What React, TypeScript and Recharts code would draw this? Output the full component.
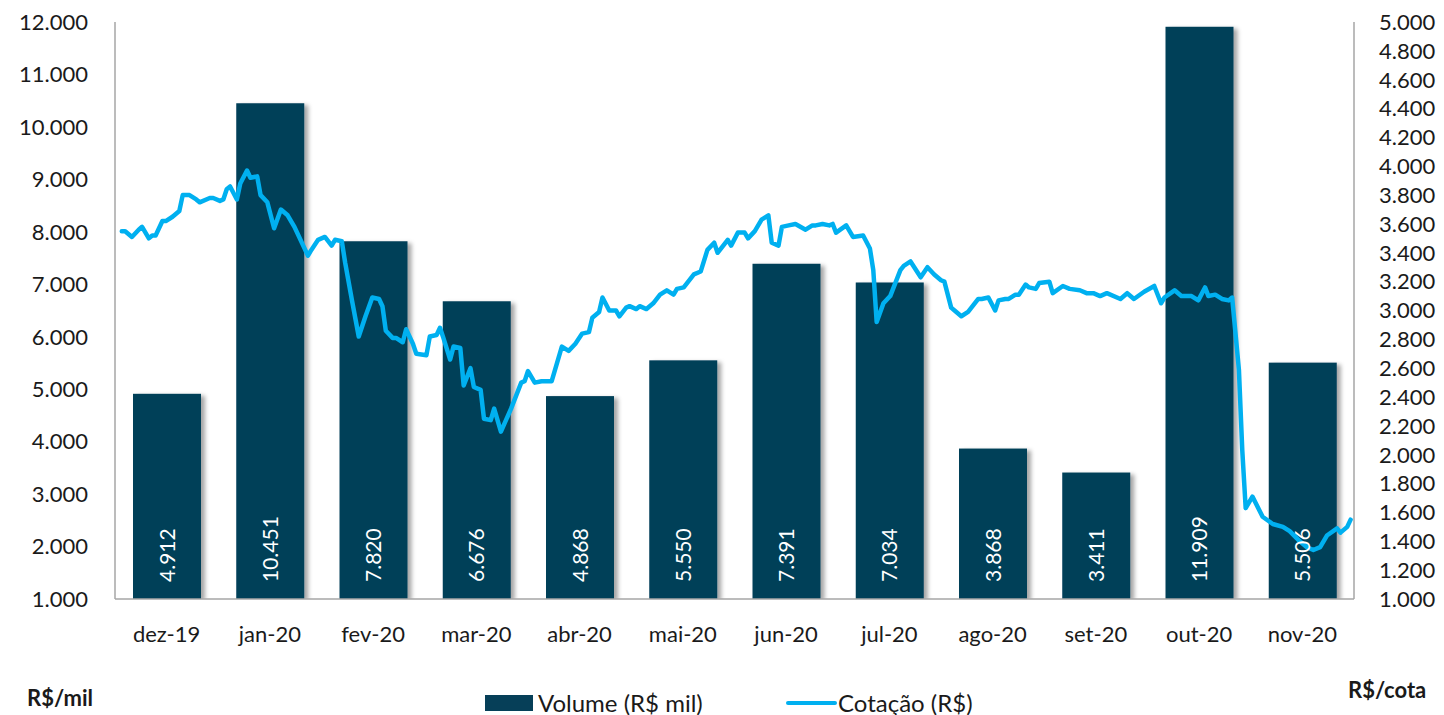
import React from 'react';
import { ComposedChart, Bar, Line, XAxis, YAxis, LabelList, Legend } from 'recharts';

const months = ['dez-19', 'jan-20', 'fev-20', 'mar-20', 'abr-20', 'mai-20', 'jun-20', 'jul-20', 'ago-20', 'set-20', 'out-20', 'nov-20'];
const volume = [4912, 10451, 7820, 6676, 4868, 5550, 7391, 7034, 3868, 3411, 11909, 5506];

// calendar day offset from 01/12/2019
const quoteDays = [
  2, 3, 5, 7, 8, 10, 11, 12, 14, 15,
  17, 19, 20, 22, 24, 25, 28, 29, 31, 32,
  33, 34, 36, 37, 39, 40, 42, 43, 45, 47,
  49, 51, 53, 57, 58, 60, 62, 64, 65, 67,
  68, 70, 72, 74, 76, 78, 79, 80, 82, 83,
  85, 86, 88, 89, 92, 93, 95, 96, 97, 99,
  100, 102, 103, 105, 106, 108, 109, 111, 112, 114,
  117, 120, 121, 122, 124, 126, 129, 132, 134, 136,
  138, 140, 141, 143, 144, 146, 148, 149, 151, 152,
  154, 155, 157, 159, 161, 163, 165, 166, 168, 171,
  173, 175, 177, 178, 181, 182, 184, 186, 187, 189,
  191, 193, 194, 196, 197, 199, 201, 204, 206, 207,
  209, 211, 212, 213, 216, 218, 221, 223, 224, 225,
  227, 229, 232, 233, 235, 238, 240, 242, 244, 245,
  247, 248, 250, 252, 255, 256, 258, 260, 261, 263,
  264, 266, 267, 269, 270, 272, 273, 276, 277, 280,
  282, 285, 287, 289, 291, 293, 297, 299, 301, 304,
  307, 309, 310, 313, 315, 318, 320, 322, 323, 325,
  327, 329, 330, 332, 333, 334, 335, 336, 339, 342,
  345, 347, 350, 352, 354, 356, 358, 361, 362, 364, 365,
];
const quoteValues = [
  3.55, 3.55, 3.51, 3.56, 3.58, 3.50, 3.52, 3.52, 3.62, 3.62,
  3.65, 3.69, 3.80, 3.80, 3.77, 3.75, 3.78, 3.78, 3.76, 3.77,
  3.84, 3.86, 3.77, 3.88, 3.97, 3.92, 3.93, 3.80, 3.75, 3.57,
  3.70, 3.66, 3.58, 3.38, 3.42, 3.49, 3.51, 3.45, 3.49, 3.48,
  3.33, 3.07, 2.82, 2.96, 3.09, 3.08, 3.03, 2.86, 2.81, 2.81,
  2.78, 2.87, 2.77, 2.70, 2.69, 2.82, 2.83, 2.88, 2.81, 2.66,
  2.75, 2.74, 2.48, 2.60, 2.47, 2.45, 2.25, 2.24, 2.32, 2.16,
  2.32, 2.50, 2.51, 2.58, 2.50, 2.51, 2.51, 2.75, 2.72, 2.77,
  2.84, 2.85, 2.95, 2.99, 3.09, 3.00, 3.00, 2.96, 3.02, 3.03,
  3.01, 3.03, 3.01, 3.05, 3.11, 3.14, 3.11, 3.15, 3.16, 3.25,
  3.27, 3.42, 3.47, 3.40, 3.49, 3.45, 3.54, 3.54, 3.50, 3.55,
  3.63, 3.66, 3.47, 3.45, 3.58, 3.59, 3.60, 3.56, 3.59, 3.59,
  3.60, 3.59, 3.60, 3.54, 3.59, 3.51, 3.52, 3.43, 3.28, 2.92,
  3.05, 3.10, 3.28, 3.31, 3.34, 3.23, 3.30, 3.25, 3.21, 3.20,
  3.02, 3.00, 2.96, 2.99, 3.08, 3.08, 3.09, 3.00, 3.07, 3.08,
  3.08, 3.11, 3.11, 3.18, 3.16, 3.15, 3.19, 3.20, 3.12, 3.17,
  3.15, 3.14, 3.12, 3.12, 3.10, 3.12, 3.08, 3.12, 3.08, 3.13,
  3.17, 3.05, 3.09, 3.14, 3.10, 3.10, 3.07, 3.16, 3.10, 3.11,
  3.08, 3.07, 3.09, 2.59, 2.03, 1.63, 1.67, 1.71, 1.57, 1.52,
  1.50, 1.47, 1.40, 1.36, 1.34, 1.36, 1.44, 1.49, 1.46, 1.50, 1.55,
];

const leftTicks = [1000, 2000, 3000, 4000, 5000, 6000, 7000, 8000, 9000, 10000, 11000, 12000];
const rightTicks = [1.0, 1.2, 1.4, 1.6, 1.8, 2.0, 2.2, 2.4, 2.6, 2.8, 3.0, 3.2, 3.4, 3.6, 3.8, 4.0, 4.2, 4.4, 4.6, 4.8, 5.0];

const barData = months.map((m, i) => ({ month: m, volume: volume[i] }));
const lineData = quoteDays.map((d, i) => ({ day: d, quote: quoteValues[i] }));

const BAR_COLOR = '#063f58';
const LINE_COLOR = '#00b0f0';
const AXIS_COLOR = '#a6a6a6';
const FONT = 'Lato, "Open Sans", sans-serif';

const fmtThousands = (v: number) => String(Math.round(v)).replace(/\B(?=(\d{3})+(?!\d))/g, '.');
const fmtQuote = (v: number) => v.toFixed(3);

const BarShape = (props: any) => {
  const { x, y, width, height } = props;
  if (!height || height <= 0) return null;
  return <rect x={x} y={y} width={width} height={height} fill={BAR_COLOR} filter="url(#barShadow)" />;
};

const BarValueLabel = (props: any) => {
  const { x, y, width, height, value } = props;
  const cx = x + width / 2;
  const by = y + height - 17;
  return (
    <text
      x={cx}
      y={by}
      dy="0.36em"
      transform={`rotate(-90, ${cx}, ${by})`}
      textAnchor="start"
      fill="#ffffff"
      fontSize={21}
      fontFamily={FONT}
    >
      {fmtThousands(value)}
    </text>
  );
};

const LegendContent = () => (
  <div style={{ position: 'relative', width: 1444, height: 30, fontFamily: FONT, fontSize: 24, color: '#1a1a1a' }}>
    <div style={{ position: 'absolute', left: 485, top: 7, width: 48, height: 16, background: BAR_COLOR }} />
    <div style={{ position: 'absolute', left: 538, top: 0, lineHeight: '30px', whiteSpace: 'nowrap' }}>Volume (R$ mil)</div>
    <div style={{ position: 'absolute', left: 786, top: 13, width: 51, height: 4, borderRadius: 2, background: LINE_COLOR }} />
    <div style={{ position: 'absolute', left: 838, top: 0, lineHeight: '30px', whiteSpace: 'nowrap' }}>Cotação (R$)</div>
  </div>
);

export default function App() {
  return (
    <div style={{ position: 'absolute', left: 0, top: 0, width: 1444, height: 715, background: '#ffffff', fontFamily: FONT }}>
      <ComposedChart
        width={1444}
        height={715}
        data={barData}
        margin={{ top: 22, right: 0, bottom: 56, left: 0 }}
      >
        <defs>
          <filter id="barShadow" x="-20%" y="-5%" width="150%" height="115%">
            <feDropShadow dx="4" dy="2" stdDeviation="2" floodColor="#000000" floodOpacity="0.35" />
          </filter>
        </defs>
        <XAxis
          xAxisId="cat"
          dataKey="month"
          type="category"
          axisLine={{ stroke: AXIS_COLOR, strokeWidth: 1.5 }}
          tickLine={false}
          tickSize={0}
          tickMargin={27}
          height={60}
          interval={0}
          tick={{ fill: '#1a1a1a', fontSize: 22, fontFamily: FONT }}
        />
        <XAxis xAxisId="day" type="number" dataKey="day" domain={[0, 366]} hide allowDataOverflow />
        <YAxis
          yAxisId="left"
          orientation="left"
          width={115}
          domain={[1000, 12000]}
          ticks={leftTicks}
          interval={0}
          tickFormatter={fmtThousands}
          axisLine={{ stroke: AXIS_COLOR, strokeWidth: 1.5 }}
          tickLine={false}
          tickSize={0}
          tickMargin={27}
          tick={{ fill: '#1a1a1a', fontSize: 22, fontFamily: FONT }}
          allowDataOverflow
        />
        <YAxis
          yAxisId="right"
          orientation="right"
          width={90}
          domain={[1, 5]}
          ticks={rightTicks}
          interval={0}
          tickFormatter={fmtQuote}
          axisLine={{ stroke: AXIS_COLOR, strokeWidth: 1.5 }}
          tickLine={false}
          tickSize={0}
          tickMargin={25}
          tick={{ fill: '#1a1a1a', fontSize: 22, fontFamily: FONT, textAnchor: 'start' }}
          allowDataOverflow
        />
        <Bar
          xAxisId="cat"
          yAxisId="left"
          dataKey="volume"
          name="Volume (R$ mil)"
          barSize={68}
          fill={BAR_COLOR}
          shape={BarShape}
          isAnimationActive={false}
        >
          <LabelList dataKey="volume" content={BarValueLabel} />
        </Bar>
        <Line
          xAxisId="day"
          yAxisId="right"
          data={lineData}
          dataKey="quote"
          name="Cotação (R$)"
          type="linear"
          stroke={LINE_COLOR}
          strokeWidth={4.5}
          strokeLinejoin="round"
          strokeLinecap="round"
          dot={false}
          activeDot={false}
          isAnimationActive={false}
        />
        <Legend
          layout="horizontal"
          verticalAlign="middle"
          align="center"
          wrapperStyle={{ top: 688, left: 0, width: 1444, height: 30 }}
          content={LegendContent}
        />
      </ComposedChart>
      <div style={{ position: 'absolute', left: 27, top: 684, fontSize: 22, fontWeight: 700, color: '#1a1a1a', whiteSpace: 'nowrap' }}>R$/mil</div>
      <div style={{ position: 'absolute', left: 1348, top: 676, fontSize: 22, fontWeight: 700, color: '#1a1a1a', whiteSpace: 'nowrap' }}>R$/cota</div>
    </div>
  );
}
